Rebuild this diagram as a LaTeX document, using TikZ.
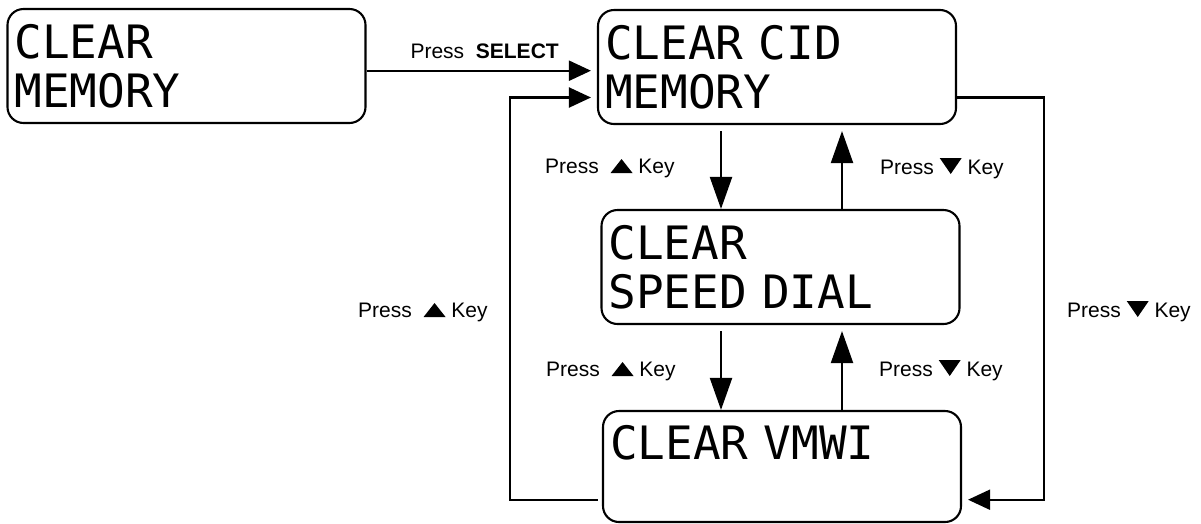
\documentclass[tikz,border=0pt]{standalone}
\usepackage{fontspec}
\setmainfont{Liberation Sans}
\newfontfamily\lcdfont{DejaVu Sans Mono}
\usepackage{tikz}
\usetikzlibrary{
  positioning,
  arrows.meta,
  calc
}

% 按键三角
\newcommand{\uptri}{\tikz[x=1pt,y=1pt,baseline=0pt]\fill (0,0) -- (22,0) -- (11,14) -- cycle;}
\newcommand{\dntri}{\tikz[x=1pt,y=1pt,baseline=0pt]\fill (0,16) -- (22,16) -- (11,0) -- cycle;}

\begin{document}
\begin{tikzpicture}[x=1pt, y=-1pt, line width=2.1pt,
    lcd/.style={draw, rounded corners=16pt, minimum width=358pt, minimum height=114pt,
      text width=344pt, inner xsep=7pt, inner ysep=0pt, align=left,
      font=\lcdfont\fontsize{46}{49}\selectfont},
    lab/.style={anchor=base west, inner sep=0pt, font=\fontsize{21}{25}\selectfont},
    harrow/.style={-{Triangle[length=22pt, width=20pt]}},
    varrow/.style={-{Triangle[length=32pt, width=22pt]}}]
    \useasboundingbox (0,0) rectangle (1201,523);

    % 显示框
    \node[lcd] (mem) at (186.5,66) {CLEAR\\MEMORY};
    \node[lcd] (cid) at (777,67) {CLEAR CID\\MEMORY};
    \node[lcd] (spd) at (780.5,267) {CLEAR\\SPEED DIAL};
    \node[lcd, minimum height=111pt] (vmwi) at (782,466.5) {CLEAR VMWI\\\mbox{}};

    % SELECT
    \draw[harrow, shorten >=6pt] ([yshift=-4.7pt]mem.east) -- ([yshift=-4.7pt]mem.east -| cid.west);
    \node[lab] (sel) at (409.5,58.3) {Press\ \ \textbf{SELECT}};

    % 上下箭头
    \coordinate (dnx) at ([xshift=-59.5pt]spd.north);
    \coordinate (upx) at ([xshift=61.5pt]spd.north);
    \draw[varrow, shorten <=6pt] (dnx |- cid.south) -- (dnx);
    \draw[varrow, shorten >=6pt] (upx) -- (upx |- cid.south);
    \draw[varrow, shorten <=6pt] (dnx |- spd.south) -- (dnx |- vmwi.north);
    \draw[varrow, shorten >=6pt] (upx |- vmwi.north) -- (upx |- spd.south);
    \node[lab] (upa) at (545,173) {Press\ \ \uptri\ Key};
    \node[lab] (dna) at (880,174) {Press \dntri\ Key};
    \node[lab] (upb) at (546,376) {Press\ \ \uptri\ Key};
    \node[lab] (dnb) at (879,376) {Press \dntri\ Key};

    % 外圈回路
    \coordinate (lin) at ([yshift=-30.5pt]cid.west);
    \coordinate (lout) at ([yshift=-33.2pt]vmwi.west);
    \coordinate (rout) at ([yshift=-30.5pt]cid.east);
    \coordinate (rin) at ([yshift=-33.2pt]vmwi.east);
    \coordinate (lx) at (510,0);
    \coordinate (rx) at (1044,0);
    \draw[harrow, shorten <=4pt, shorten >=6pt] (lout) -| (lx |- lin) -- (lin);
    \draw[harrow, shorten >=6pt] (rout) -| (rx |- rin) -- (rin);
    \node[lab] (upl) at (358,317) {Press\ \ \uptri\ Key};
    \node[lab] (dnr) at (1067,317) {Press \dntri\ Key};
\end{tikzpicture}
\end{document}
